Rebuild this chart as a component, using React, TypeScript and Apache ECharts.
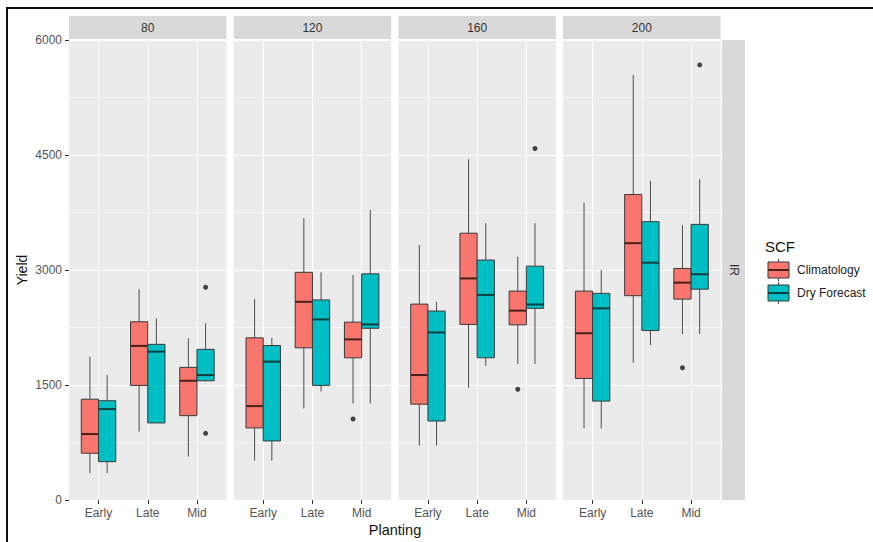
import React, { useEffect, useRef } from 'react';
import * as echarts from 'echarts';

// ---------- data ----------
const planting = ['Early', 'Late', 'Mid'];
const irLevels = ['80', '120', '160', '200'];
const scfGroups = ['Climatology', 'Dry Forecast'];
const yTickValues = [0, 1500, 3000, 4500, 6000];

// [min, Q1, median, Q3, max] for Early, Late, Mid
const clim80 = [[350, 610, 860, 1315, 1870], [890, 1495, 2010, 2325, 2750], [565, 1100, 1555, 1730, 2110]];
const dry80 = [[350, 500, 1185, 1295, 1630], [1005, 1005, 1935, 2030, 2370], [1545, 1555, 1630, 1965, 2305]];
const clim120 = [[515, 940, 1225, 2115, 2620], [1195, 1985, 2585, 2970, 3675], [1260, 1855, 2095, 2320, 2935]];
const dry120 = [[515, 770, 1805, 2015, 2115], [1415, 1495, 2355, 2610, 2970], [1260, 2240, 2290, 2950, 3785]];
const clim160 = [[710, 1250, 1630, 2555, 3325], [1465, 2290, 2890, 3480, 4445], [1775, 2285, 2470, 2725, 3175]];
const dry160 = [[710, 1030, 2185, 2465, 2585], [1750, 1855, 2675, 3130, 3610], [1775, 2500, 2550, 3050, 3610]];
const clim200 = [[935, 1585, 2175, 2725, 3880], [1790, 2665, 3350, 3985, 5545], [2165, 2620, 2835, 3020, 3585]];
const dry200 = [[935, 1290, 2500, 2695, 3000], [2020, 2210, 3095, 3630, 4160], [2165, 2750, 2945, 3595, 4185]];

// outliers: [planting index, value]
const climOut80: number[][] = [];
const dryOut80 = [[2, 2775], [2, 870]];
const climOut120 = [[2, 1057]];
const dryOut120: number[][] = [];
const climOut160 = [[2, 1445]];
const dryOut160 = [[2, 4585]];
const climOut200 = [[2, 1725]];
const dryOut200 = [[2, 5675]];

const climStats = [clim80, clim120, clim160, clim200];
const dryStats = [dry80, dry120, dry160, dry200];
const climOutliers = [climOut80, climOut120, climOut160, climOut200];
const dryOutliers = [dryOut80, dryOut120, dryOut160, dryOut200];

// ---------- styling ----------
const FILLS = ['#F8766D', '#00BFC4'];
const MEDIANS = ['#4a1e1b', '#0a3f41'];
const PANEL_LEFT = 69;
const PANEL_STEP = 164.7;
const PANEL_W = 157.5;
const PANEL_TOP = 40;
const PANEL_H = 460;
const UNIT = PANEL_W / 3.2; // ggplot discrete expansion: 0.6 units each side
const BOX_FRAC = 0.35;
const FONT = 'Liberation Sans, Arial, sans-serif';

function makeRenderItem(side: number, fill: string, medianColor: string) {
  return (params: any, api: any) => {
    const idx = api.value(0);
    const band = api.size([1, 0])[0];
    const w = band * BOX_FRAC;
    const cx = api.coord([idx, 0])[0] + (side * w) / 2;
    const py = (k: number) => api.coord([idx, api.value(k)])[1];
    const yMin = py(1);
    const yQ1 = py(2);
    const yMed = py(3);
    const yQ3 = py(4);
    const yMax = py(5);
    const whisker = { stroke: '#4d4d4d', lineWidth: 1 };
    return {
      type: 'group',
      children: [
        { type: 'line', shape: { x1: cx, y1: yMax, x2: cx, y2: yQ3 }, style: whisker },
        { type: 'line', shape: { x1: cx, y1: yQ1, x2: cx, y2: yMin }, style: whisker },
        {
          type: 'rect',
          shape: { x: cx - w / 2, y: yQ3, width: w, height: Math.max(yQ1 - yQ3, 0.5) },
          style: { fill, stroke: '#3a3a3a', lineWidth: 1 },
        },
        {
          type: 'line',
          shape: { x1: cx - w / 2, y1: yMed, x2: cx + w / 2, y2: yMed },
          style: { stroke: medianColor, lineWidth: 2 },
        },
      ],
    };
  };
}

export default function App() {
  const ref = useRef<HTMLDivElement>(null);

  useEffect(() => {
    const chart = echarts.init(ref.current!, null, { renderer: 'svg' });

    const grids: any[] = [];
    const xAxes: any[] = [];
    const yAxes: any[] = [];
    const series: any[] = [];
    const graphics: any[] = [];
    const outlierOffset = (UNIT * BOX_FRAC) / 2;

    irLevels.forEach((ir, i) => {
      const left = PANEL_LEFT + i * PANEL_STEP;
      const bgIndex = i * 2;
      const dataIndex = i * 2 + 1;

      // background panel grid (full panel width, horizontal grid lines, y labels)
      grids.push({
        left,
        top: PANEL_TOP,
        width: PANEL_W,
        height: PANEL_H,
        show: true,
        backgroundColor: '#EBEBEB',
        borderWidth: 0,
      });
      xAxes.push({ type: 'value', gridIndex: bgIndex, show: false, min: 0, max: 1 });
      yAxes.push({
        type: 'value',
        gridIndex: bgIndex,
        min: 0,
        max: 6000,
        interval: 1500,
        axisLine: { show: false },
        axisTick: { show: i === 0, length: 4, lineStyle: { color: '#333', width: 1 } },
        axisLabel: {
          show: i === 0,
          color: '#555',
          fontSize: 12,
          margin: 7,
          fontFamily: FONT,
          formatter: (v: number) => (yTickValues.includes(v) ? String(v) : ''),
        },
        splitLine: { show: true, lineStyle: { color: '#ffffff', width: 1.1 } },
        minorTick: { show: false, splitNumber: 2 },
        minorSplitLine: { show: true, lineStyle: { color: '#ffffff', width: 0.5 } },
      });

      // data grid (category positions with ggplot spacing)
      grids.push({
        left: left + 0.1 * UNIT,
        top: PANEL_TOP,
        width: 3 * UNIT,
        height: PANEL_H,
        show: false,
      });
      xAxes.push({
        type: 'category',
        gridIndex: dataIndex,
        data: planting,
        boundaryGap: true,
        axisLine: { show: false },
        axisTick: { show: true, alignWithLabel: true, length: 4, lineStyle: { color: '#333', width: 1 } },
        axisLabel: { color: '#555', fontSize: 12, margin: 7, fontFamily: FONT },
        splitLine: { show: true, alignWithLabel: true, lineStyle: { color: '#ffffff', width: 1.1 } },
      });
      yAxes.push({
        type: 'value',
        gridIndex: dataIndex,
        min: 0,
        max: 6000,
        interval: 1500,
        show: false,
        splitLine: { show: false },
      });

      [climStats[i], dryStats[i]].forEach((stats, g) => {
        series.push({
          type: 'custom',
          name: scfGroups[g],
          xAxisIndex: dataIndex,
          yAxisIndex: dataIndex,
          dimensions: ['planting', 'min', 'q1', 'median', 'q3', 'max'],
          encode: { x: 0, y: [1, 2, 3, 4, 5] },
          data: stats.map((s, k) => [k, ...s]),
          renderItem: makeRenderItem(g === 0 ? -1 : 1, FILLS[g], MEDIANS[g]),
          z: 3,
        });
      });
      [climOutliers[i], dryOutliers[i]].forEach((outs, g) => {
        series.push({
          type: 'scatter',
          name: scfGroups[g] + ' outliers',
          xAxisIndex: dataIndex,
          yAxisIndex: dataIndex,
          data: outs,
          symbol: 'circle',
          symbolSize: 5,
          symbolOffset: [g === 0 ? -outlierOffset : outlierOffset, 0],
          itemStyle: { color: '#1a1a1a' },
          z: 4,
        });
      });

      // facet strip
      graphics.push({
        type: 'rect',
        shape: { x: left, y: 16, width: PANEL_W, height: 23 },
        style: { fill: '#D9D9D9' },
        silent: true,
      });
      graphics.push({
        type: 'text',
        x: left + PANEL_W / 2,
        y: 28,
        style: {
          text: ir,
          fill: '#333',
          fontSize: 12,
          fontFamily: FONT,
          align: 'center',
          verticalAlign: 'middle',
        },
      });
    });

    // right strip "IR"
    graphics.push({
      type: 'rect',
      shape: { x: 722, y: PANEL_TOP, width: 23, height: PANEL_H },
      style: { fill: '#D9D9D9' },
    });
    graphics.push({
      type: 'text',
      x: 733.5,
      y: PANEL_TOP + PANEL_H / 2,
      rotation: -Math.PI / 2,
      style: {
        text: 'IR',
        fill: '#333',
        fontSize: 12,
        fontFamily: FONT,
        align: 'center',
        verticalAlign: 'middle',
      },
    });

    // axis titles
    graphics.push({
      type: 'text',
      x: 395,
      y: 530,
      style: { text: 'Planting', fill: '#111', fontSize: 14.5, fontFamily: FONT, align: 'center', verticalAlign: 'middle' },
    });
    graphics.push({
      type: 'text',
      x: 22,
      y: 270,
      rotation: Math.PI / 2,
      style: { text: 'Yield', fill: '#111', fontSize: 14, fontFamily: FONT, align: 'center', verticalAlign: 'middle' },
    });

    // legend
    graphics.push({
      type: 'text',
      x: 765,
      y: 246,
      style: { text: 'SCF', fill: '#111', fontSize: 15, fontFamily: FONT, align: 'left', verticalAlign: 'middle' },
    });
    scfGroups.forEach((name, g) => {
      const yc = 270 + g * 23;
      graphics.push({
        type: 'line',
        shape: { x1: 778.5, y1: yc - 11, x2: 778.5, y2: yc + 11 },
        style: { stroke: '#4d4d4d', lineWidth: 1 },
      });
      graphics.push({
        type: 'rect',
        shape: { x: 768, y: yc - 8, width: 21, height: 16 },
        style: { fill: FILLS[g], stroke: '#3a3a3a', lineWidth: 1 },
      });
      graphics.push({
        type: 'line',
        shape: { x1: 768, y1: yc, x2: 789, y2: yc },
        style: { stroke: MEDIANS[g], lineWidth: 2 },
      });
      graphics.push({
        type: 'text',
        x: 797,
        y: yc,
        style: { text: name, fill: '#222', fontSize: 12, fontFamily: FONT, align: 'left', verticalAlign: 'middle' },
      });
    });

    // image frame (top and left)
    graphics.push({
      type: 'line',
      shape: { x1: 6, y1: 8, x2: 873, y2: 8 },
      style: { stroke: '#111', lineWidth: 2 },
    });
    graphics.push({
      type: 'line',
      shape: { x1: 7, y1: 7, x2: 7, y2: 542 },
      style: { stroke: '#111', lineWidth: 2 },
    });

    chart.setOption({
      animation: false,
      backgroundColor: '#ffffff',
      textStyle: { fontFamily: FONT },
      grid: grids,
      xAxis: xAxes,
      yAxis: yAxes,
      series,
      graphic: { elements: graphics },
    });

    return () => chart.dispose();
  }, []);

  return (
    <div
      ref={ref}
      style={{ position: 'fixed', left: 0, top: 0, width: 873, height: 542, background: '#fff' }}
    />
  );
}
